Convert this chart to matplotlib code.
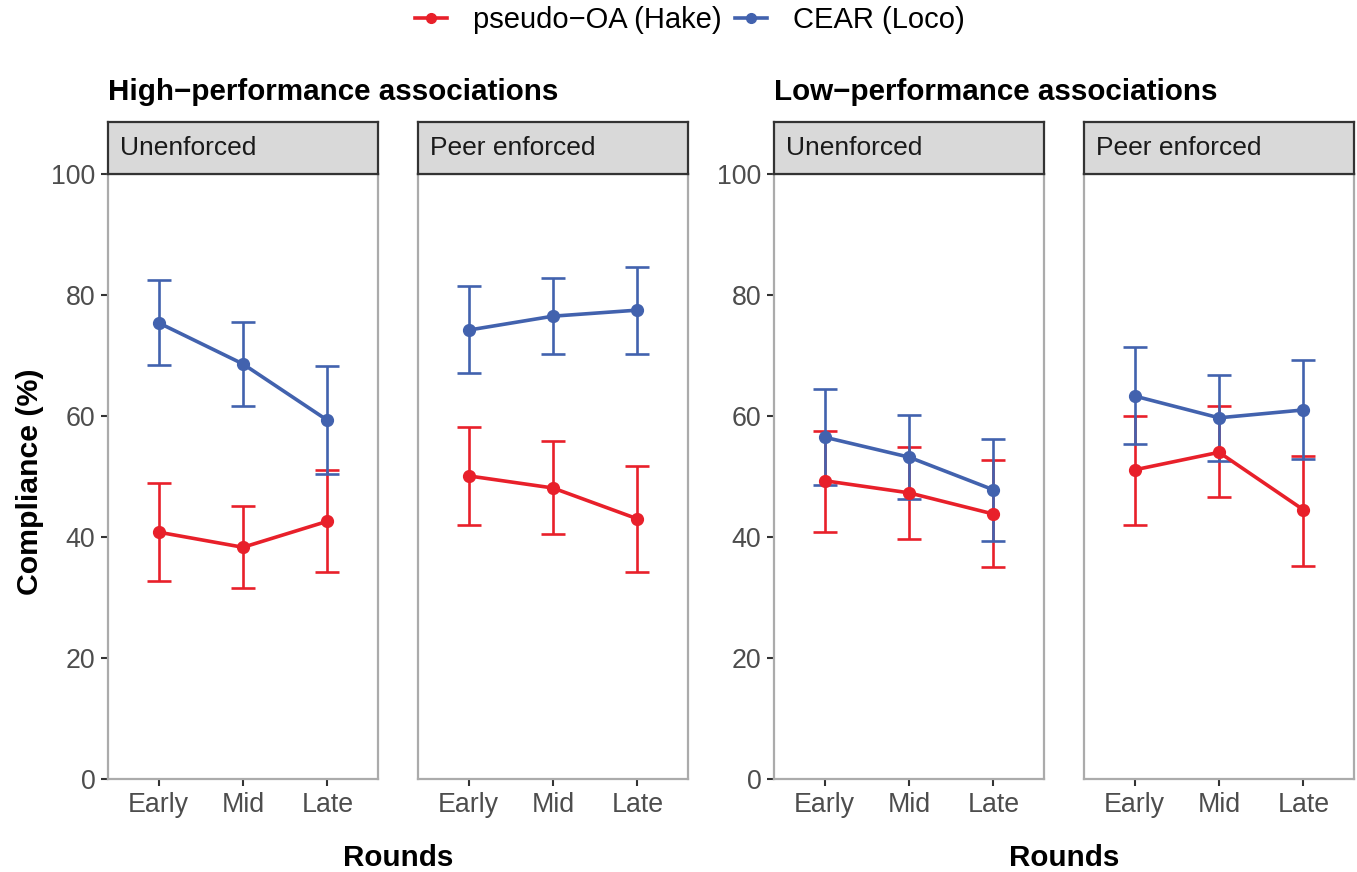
import matplotlib.pyplot as plt
from matplotlib.lines import Line2D

plt.rcParams['font.family'] = ['Liberation Sans', 'DejaVu Sans']

# DATA

rounds = ["Early", "Mid", "Late"]
groups = ["High\u2212performance associations", "Low\u2212performance associations"]
conditions = ["Unenforced", "Peer enforced"]
series_names = ["pseudo\u2212OA (Hake)", "CEAR (Loco)"]

# mean, lower, upper for each panel (high-unenf, high-peer, low-unenf, low-peer)
hake_mean = [[40.8, 38.3, 42.6], [50.1, 48.1, 43.0], [49.3, 47.3, 43.8], [51.1, 54.0, 44.5]]
hake_low = [[32.7, 31.5, 34.2], [42.0, 40.5, 34.2], [40.8, 39.7, 35.0], [42.0, 46.6, 35.2]]
hake_high = [[48.9, 45.1, 51.0], [58.2, 55.9, 51.8], [57.5, 54.9, 52.7], [60.0, 61.6, 53.4]]

cear_mean = [[75.4, 68.6, 59.3], [74.2, 76.5, 77.5], [56.5, 53.2, 47.8], [63.3, 59.7, 61.0]]
cear_low = [[68.4, 61.6, 50.4], [67.1, 70.2, 70.2], [48.6, 46.3, 39.3], [55.4, 52.6, 52.9]]
cear_high = [[82.5, 75.6, 68.2], [81.5, 82.8, 84.6], [64.5, 60.2, 56.2], [71.4, 66.8, 69.3]]

yticks = [0, 20, 40, 60, 80, 100]

RED = "#E8202A"
BLUE = "#4262AE"

W, H = 1357, 872
fig = plt.figure(figsize=(W / 100, H / 100), dpi=100)

panel_left = [108, 418, 774, 1084]
panel_w = 270
panel_top, panel_bot = 174, 779
strip_top = 122

x = list(range(len(rounds)))

for p in range(4):
    ax = fig.add_axes([panel_left[p] / W, 1 - panel_bot / H, panel_w / W,
                       (panel_bot - panel_top) / H])
    for means, lo, hi, col in [(hake_mean[p], hake_low[p], hake_high[p], RED),
                                (cear_mean[p], cear_low[p], cear_high[p], BLUE)]:
        yerr = [[m - l for m, l in zip(means, lo)], [h - m for m, h in zip(means, hi)]]
        ax.errorbar(x, means, yerr=yerr, color=col, lw=2.6, marker="o", ms=8.5,
                    elinewidth=1.9, capsize=8.3, capthick=1.9)
    ax.set_xlim(-0.6, 2.6)
    ax.set_ylim(0, 100)
    ax.set_xticks(x)
    ax.set_xticklabels(rounds)
    ax.set_yticks(yticks)
    for s in ax.spines.values():
        s.set_color("#ababab")
        s.set_linewidth(1.6)
    ax.tick_params(axis="both", colors="#333333", labelcolor="#4d4d4d",
                   labelsize=19.3, length=5, width=1.5, pad=4)
    if p % 2 == 1:
        ax.tick_params(axis="y", left=False, labelleft=False)

    # strip
    sax = fig.add_axes([panel_left[p] / W, 1 - panel_top / H, panel_w / W,
                        (panel_top - strip_top) / H])
    sax.set_xlim(0, 1)
    sax.set_ylim(0, 1)
    sax.set_xticks([])
    sax.set_yticks([])
    sax.set_facecolor("#d9d9d9")
    for s in sax.spines.values():
        s.set_color("#333333")
        s.set_linewidth(1.6)
    sax.text(12 / panel_w, 0.5, conditions[p % 2], fontsize=19, color="#1a1a1a",
             ha="left", va="center")

# group titles and axis labels
for g in range(2):
    fig.text(panel_left[2 * g] / W, 1 - 92 / H, groups[g], fontsize=21.3,
             fontweight="bold", ha="left", va="center")
    cx = (panel_left[2 * g] + panel_left[2 * g + 1] + panel_w) / 2
    fig.text(cx / W, 1 - 858 / H, "Rounds", fontsize=21.3, fontweight="bold",
             ha="center", va="center")

fig.text(30 / W, 1 - 482 / H, "Compliance (%)", fontsize=21.8, fontweight="bold",
         rotation=90, ha="center", va="center")

handles = [Line2D([], [], color=RED, lw=2.6, marker="o", ms=7),
           Line2D([], [], color=BLUE, lw=2.6, marker="o", ms=7)]
fig.legend(handles, series_names, loc="center", bbox_to_anchor=(690 / W, 1 - 20 / H),
           ncol=2, frameon=False, fontsize=21, handlelength=1.1,
           handletextpad=0.9, columnspacing=0.45)

fig.savefig("out.png", dpi=100)
